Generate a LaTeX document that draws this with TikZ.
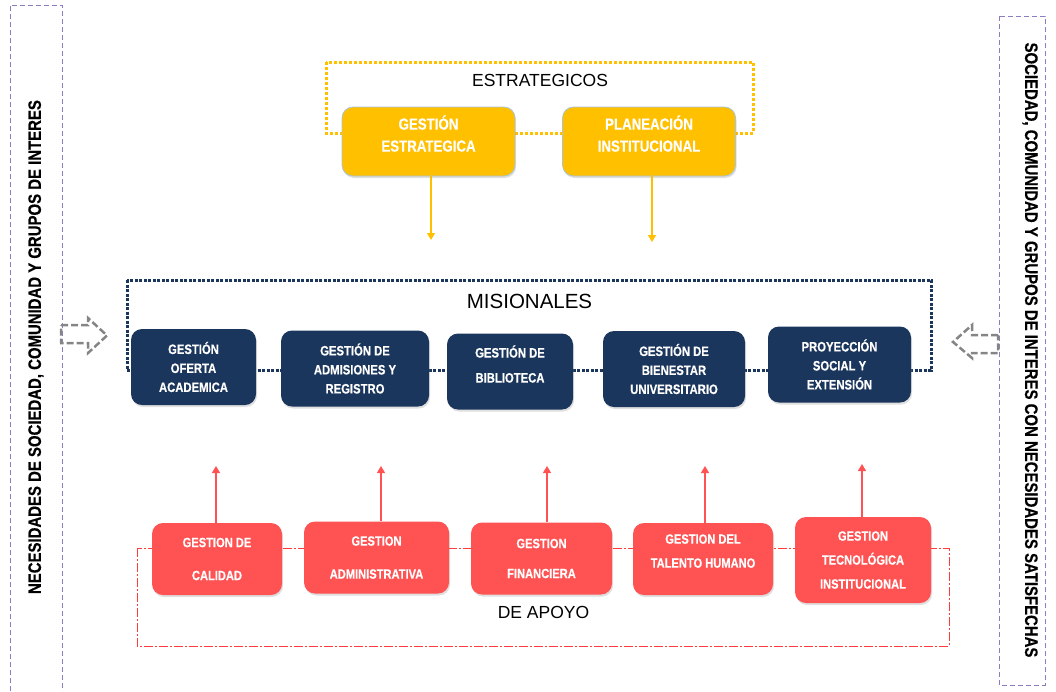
\documentclass[tikz,border=0pt]{standalone}
\usepackage{fontspec}
\setmainfont{Liberation Sans}
\newfontfamily\narrowfont[FakeStretch=0.83, FakeBold=0.4]{Liberation Sans}
\definecolor{gold}{HTML}{FFC000}
\definecolor{navy}{HTML}{1B365D}
\definecolor{coral}{HTML}{FF5252}
\definecolor{scarlet}{HTML}{FF3B3B}
\definecolor{steel}{HTML}{A9C4D6}
\definecolor{lilac}{HTML}{8E7CC3}
\definecolor{ash}{HTML}{858585}
\usepackage{tikz}
\usetikzlibrary{calc}
\usetikzlibrary{arrows.meta}
\usetikzlibrary{shadows}

\begin{document}
\begin{tikzpicture}[x=1pt, y=-1pt,
  box/.style={rounded corners=11pt, align=center, text=white, inner sep=2pt,
    drop shadow={shadow xshift=1pt, shadow yshift=-2pt, opacity=0.25}},
  strat/.style={box, fill=gold, draw=steel, line width=0.8pt, minimum width=173pt,
    minimum height=69pt, font=\narrowfont\bfseries\fontsize{16}{22}\selectfont},
  mision/.style={box, fill=navy, minimum height=76pt, font=\narrowfont\bfseries\fontsize{13.6}{19}\selectfont},
  apoyo/.style={box, fill=coral, minimum height=72pt, font=\narrowfont\bfseries\fontsize{13.4}{24}\selectfont},
  title/.style={font=\fontsize{17.5}{20}\selectfont, inner sep=0pt},
  side/.style={font=\narrowfont\bfseries\fontsize{18}{20}\selectfont, inner sep=0pt},
  flow/.style={line width=1.3pt, -{Triangle[width=8pt,length=7pt]}},
  hollow/.style={ash, line width=2.5pt, dash pattern=on 7pt off 3pt, line join=miter}]

\useasboundingbox (0,0) rectangle (1056,691);

% side panels

\draw[lilac, line width=0.8pt, dash pattern=on 5pt off 3pt] (10,691) -- (10,5) -- (62,5) -- (62,691);
\draw[lilac, line width=0.8pt, dash pattern=on 5pt off 3pt] (999,16) rectangle (1045,685);
\node[side, rotate=90] (need) at (36,347) {NECESIDADES DE SOCIEDAD, COMUNIDAD Y GRUPOS DE INTERES};
\node[side, rotate=-90] (sat) at (1030,350) {SOCIEDAD, COMUNIDAD Y GRUPOS DE INTERES CON NECESIDADES SATISFECHAS};

\draw[hollow] (61,325) -- (88,325) -- (88,318) -- (107,335.5) -- (88,353) -- (88,343) -- (61,343) -- cycle;
\draw[hollow] (998,335) -- (972,335) -- (972,325) -- (953,342) -- (972,358) -- (972,353) -- (998,353) -- cycle;

% frames

\draw[gold, line width=3pt, dash pattern=on 3pt off 2pt] (326,62) rectangle (753,133);
\draw[navy, line width=3pt, dash pattern=on 3pt off 1.5pt] (127,280) rectangle (931,370);
\draw[scarlet, line width=0.9pt, dash pattern=on 9pt off 2pt on 2pt off 2pt] (137,548) rectangle (949,646);

\node[title] (estr) at (540,80) {ESTRATEGICOS};
\node[title, font=\fontsize{20.5}{22}\selectfont] (mis) at (529.5,301) {MISIONALES};
\node[title] (apo) at (543.5,612) {DE APOYO};

% boxes

\node[strat] (E1) at (428.5,141.5) {GESTIÓN\\ESTRATEGICA\\[-6pt]};
\node[strat] (E2) at (649,141.5) {PLANEACIÓN\\INSTITUCIONAL\\[-6pt]};

\node[mision, minimum width=125pt] (M1) at (193.5,367) {GESTIÓN\\OFERTA\\ACADEMICA};
\node[mision, minimum width=148pt] (M2) at (355,368.5) {GESTIÓN DE\\ADMISIONES Y\\REGISTRO};
\node[mision, minimum width=126pt] (M3) at (510,371.5) {GESTIÓN DE\\[6pt]BIBLIOTECA\\[-4pt]};
\node[mision, minimum width=142pt] (M4) at (674,369) {GESTIÓN DE\\BIENESTAR\\UNIVERSITARIO};
\node[mision, minimum width=143pt] (M5) at (839.5,364.5) {PROYECCIÓN\\SOCIAL Y\\EXTENSIÓN};

\node[apoyo, minimum width=130pt] (S1) at (217,559) {GESTION DE\\[9pt]CALIDAD};
\node[apoyo, minimum width=145pt] (S2) at (376.5,557.5) {GESTION\\[9pt]ADMINISTRATIVA};
\node[apoyo, minimum width=141pt] (S3) at (541.5,558.5) {GESTION\\[6pt]FINANCIERA};
\node[apoyo, minimum width=140pt] (S4) at (703,559) {GESTION DEL\\TALENTO HUMANO\\[-8pt]};
\node[apoyo, minimum width=136pt, minimum height=86pt] (S5) at (863,560) {GESTION\\TECNOLÓGICA\\INSTITUCIONAL};

% arrows

\coordinate (E1b) at (431,240);
\coordinate (E2b) at (652,242);
\draw[flow, gold] (E1b |- E1.south) -- (E1b);
\draw[flow, gold] (E2b |- E2.south) -- (E2b);

\coordinate (S1t) at (216,466);
\coordinate (S2t) at (381,466);
\coordinate (S3t) at (547,466);
\coordinate (S4t) at (705,466);
\coordinate (S5t) at (862,464);
\draw[flow, coral] (S1t |- S1.north) -- (S1t);
\draw[flow, coral] (S2t |- S2.north) -- (S2t);
\draw[flow, coral] (S3t |- S3.north) -- (S3t);
\draw[flow, coral] (S4t |- S4.north) -- (S4t);
\draw[flow, coral] (S5t |- S5.north) -- (S5t);

\end{tikzpicture}
\end{document}
